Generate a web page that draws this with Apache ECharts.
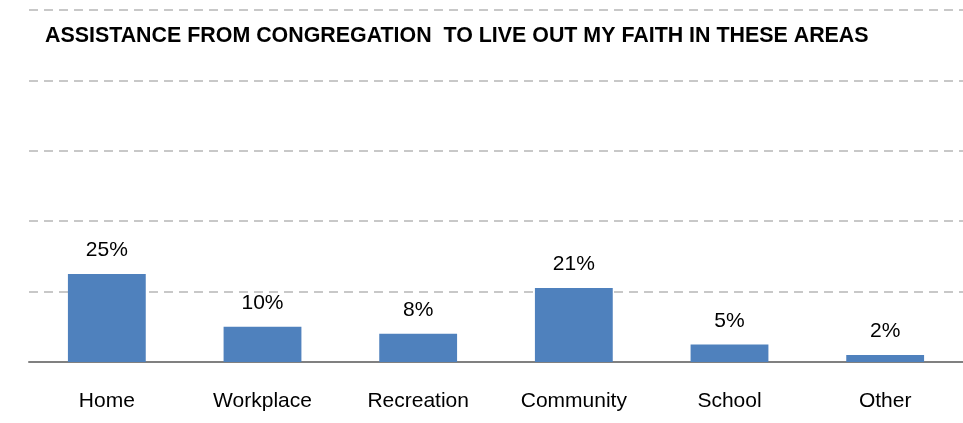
<!DOCTYPE html>
<html>
<head>
<meta charset="utf-8">
<script src="https://cdn.jsdelivr.net/npm/echarts@6/dist/echarts.min.js"></script>
<style>
  html, body { margin: 0; padding: 0; background: #fff; }
  #main { width: 963px; height: 423px; }
</style>
</head>
<body>
<div id="main"></div>
<script>
// 数据
var categories = ['Home', 'Workplace', 'Recreation', 'Community', 'School', 'Other']
var values = [25, 10, 8, 21, 5, 2]
var yTicks = [0, 20, 40, 60, 80, 100]

var myChart = echarts.init(document.getElementById('main'))
myChart.setOption({
  animation: false,
  title: {
    text: 'ASSISTANCE FROM CONGREGATION  TO LIVE OUT MY FAITH IN THESE AREAS',
    left: 40,
    top: 21,
    textStyle: {
      fontFamily: 'Liberation Sans, Arial, sans-serif',
      fontSize: 21.4,
      fontWeight: 'bold',
      color: '#000'
    }
  },
  grid: {
    left: 29,
    top: 10,
    bottom: 61,
    width: 940
  },
  xAxis: {
    type: 'category',
    data: categories,
    axisLine: { lineStyle: { color: '#808080', width: 2 } },
    axisTick: { show: false },
    axisLabel: {
      margin: 29,
      fontFamily: 'Liberation Sans, Arial, sans-serif',
      fontSize: 21,
      color: '#000'
    }
  },
  yAxis: {
    type: 'value',
    min: yTicks[0],
    max: yTicks[yTicks.length - 1],
    interval: 20,
    axisLabel: { show: false },
    axisLine: { show: false },
    axisTick: { show: false },
    splitLine: {
      lineStyle: { color: '#c8c8c8', width: 2, type: [9, 6] }
    }
  },
  series: [
    {
      type: 'bar',
      data: values,
      barWidth: '50%',
      itemStyle: { color: '#4F81BD' },
      label: {
        show: true,
        position: 'top',
        distance: 13,
        formatter: '{c}%',
        fontFamily: 'Liberation Sans, Arial, sans-serif',
        fontSize: 21,
        color: '#000'
      }
    }
  ]
})
</script>
</body>
</html>
